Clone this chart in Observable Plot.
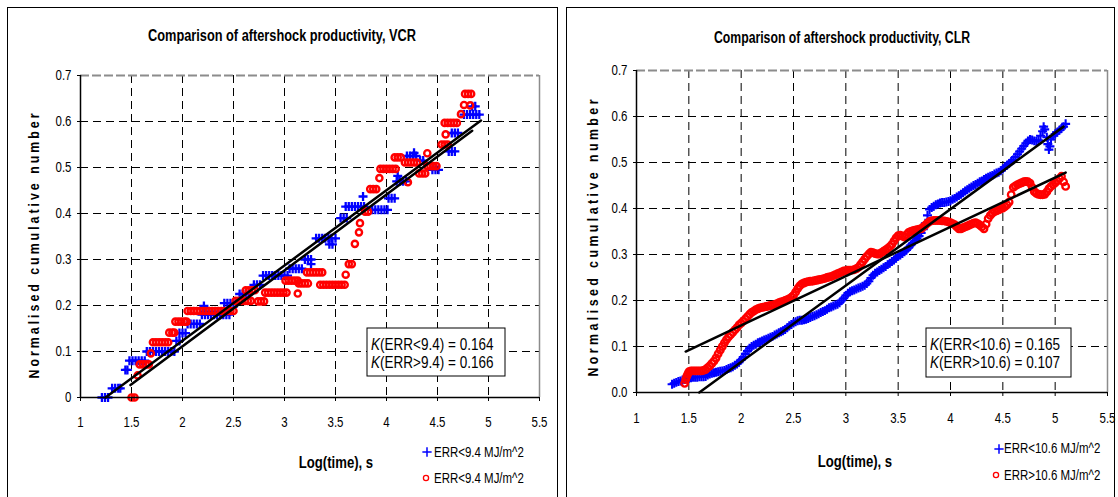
<!DOCTYPE html>
<html><head><meta charset="utf-8">
<script src="https://cdn.jsdelivr.net/npm/d3@7"></script>
<script src="https://cdn.jsdelivr.net/npm/@observablehq/plot@0.6"></script>
<style>
body{margin:0;background:#fff;}
#wrap{position:relative;width:1118px;height:497px;overflow:hidden;background:#fff;}
.panel{position:absolute;border:1px solid #000;box-sizing:border-box;}
.chart{position:absolute;top:0;}
</style></head><body>
<div id="wrap">
  <div class="panel" style="left:7px;top:7px;width:551px;height:500px"></div>
  <div class="panel" style="left:566px;top:7px;width:549px;height:500px"></div>
</div>
<script>
const FONT = "'Liberation Sans Narrow','Arial Narrow','Liberation Sans',Arial,sans-serif";

// ---- axes / labels ----
const xTicks = [1, 1.5, 2, 2.5, 3, 3.5, 4, 4.5, 5, 5.5];
const yTicks = [0, 0.1, 0.2, 0.3, 0.4, 0.5, 0.6, 0.7];
const xGrid = [1.5, 2, 2.5, 3, 3.5, 4, 4.5, 5];
const yGrid = [0.1, 0.2, 0.3, 0.4, 0.5, 0.6];
const vcrTitle = "Comparison of aftershock productivity, VCR";
const clrTitle = "Comparison of aftershock productivity, CLR";
const yTitle = "Normalised cumulative number";
const xTitle = "Log(time), s";
const vcrLegend = ["ERR<9.4 MJ/m^2", "ERR<9.4 MJ/m^2"];
const clrLegend = ["ERR<10.6 MJ/m^2", "ERR>10.6 MJ/m^2"];
const vcrK = [["(ERR<9.4) = ", "0.164"], ["(ERR>9.4) = ", "0.166"]];
const clrK = [["(ERR<10.6) = ", "0.165"], ["(ERR>10.6) = ", "0.107"]];

// ---- VCR, ERR<9.4 (blue +): [level, x positions] ----
const vcrLowRuns = [
  [0.000, [1.21, 1.24, 1.27]],
  [0.020, [1.31, 1.34, 1.37, 1.39]],
  [0.060, [1.44, 1.46]],
  [0.080, [1.48, 1.51, 1.54, 1.57, 1.60, 1.63]],
  [0.100, [1.65, 1.68, 1.71, 1.74, 1.77, 1.80, 1.83, 1.86, 1.89, 1.92]],
  [0.123, [1.94, 1.97]],
  [0.140, [1.97, 2.00, 2.03]],
  [0.160, [2.05, 2.08, 2.11, 2.14, 2.17]],
  [0.180, [2.19, 2.22, 2.25, 2.28, 2.31, 2.34, 2.37, 2.40, 2.43, 2.46]],
  [0.199, [2.21]],
  [0.205, [2.41, 2.44, 2.47, 2.50, 2.53]],
  [0.225, [2.56, 2.59, 2.62, 2.65]],
  [0.245, [2.70, 2.73, 2.76]],
  [0.265, [2.79, 2.82, 2.85, 2.88, 2.91, 2.94, 2.97, 3.00, 3.03]],
  [0.280, [3.05, 3.08, 3.11, 3.14, 3.17]],
  [0.290, [3.26]],
  [0.300, [3.20, 3.23, 3.26]],
  [0.333, [3.44, 3.47]],
  [0.346, [3.31, 3.34, 3.37, 3.40, 3.43, 3.46, 3.50]],
  [0.390, [3.55, 3.58, 3.61]],
  [0.415, [3.60, 3.63, 3.66, 3.69, 3.72, 3.75, 3.78]],
  [0.437, [3.77]],
  [0.408, [3.86, 3.89, 3.92, 3.95, 3.98, 4.01]],
  [0.433, [4.02, 4.05, 4.08]],
  [0.470, [4.10, 4.13, 4.16, 4.19]],
  [0.482, [4.11]],
  [0.525, [4.20, 4.23, 4.26, 4.29]],
  [0.532, [4.27]],
  [0.515, [4.33, 4.36]],
  [0.495, [4.45, 4.48, 4.51]],
  [0.535, [4.61, 4.64, 4.67]],
  [0.575, [4.64, 4.67, 4.70]],
  [0.615, [4.76, 4.79, 4.82, 4.85, 4.88, 4.91]],
  [0.633, [4.84, 4.87]]
];

// ---- VCR, ERR>9.4 (red o): [level, x positions] ----
const vcrHighRuns = [
  [0.000, [1.50, 1.53]],
  [0.048, [1.56]],
  [0.072, [1.58, 1.61, 1.64, 1.67]],
  [0.096, [1.69]],
  [0.120, [1.71, 1.74, 1.77, 1.80, 1.83, 1.86]],
  [0.141, [1.87, 1.90, 1.92]],
  [0.165, [1.93, 1.96, 1.99, 2.02, 2.04]],
  [0.188, [2.05, 2.08, 2.11, 2.14, 2.17, 2.20, 2.23, 2.26, 2.29, 2.32, 2.35, 2.38, 2.41, 2.44, 2.47, 2.50]],
  [0.210, [2.52, 2.55, 2.58, 2.61, 2.64, 2.67]],
  [0.233, [2.62, 2.65, 2.68, 2.71]],
  [0.209, [2.74, 2.77, 2.80]],
  [0.228, [2.81, 2.84, 2.87, 2.90, 2.93, 2.96, 2.99, 3.02]],
  [0.254, [3.01, 3.04, 3.07, 3.10, 3.13]],
  [0.226, [3.13]],
  [0.248, [3.14, 3.17, 3.20, 3.23]],
  [0.272, [3.22, 3.25, 3.28, 3.31, 3.34, 3.37]],
  [0.245, [3.35, 3.38, 3.41, 3.44, 3.47, 3.50, 3.53, 3.56, 3.59]],
  [0.267, [3.60]],
  [0.290, [3.63, 3.66]],
  [0.334, [3.69]],
  [0.359, [3.73]],
  [0.379, [3.74]],
  [0.404, [3.79, 3.82]],
  [0.453, [3.84, 3.87, 3.90]],
  [0.477, [3.93]],
  [0.497, [3.94, 3.97, 4.00, 4.03, 4.06, 4.09]],
  [0.522, [4.08, 4.11, 4.14]],
  [0.511, [4.18, 4.21, 4.24, 4.27, 4.30]],
  [0.468, [4.21]],
  [0.487, [4.32, 4.35, 4.38]],
  [0.531, [4.40]],
  [0.503, [4.40, 4.43, 4.46, 4.49]],
  [0.550, [4.54, 4.57, 4.60]],
  [0.572, [4.58]],
  [0.597, [4.57, 4.60, 4.63, 4.66, 4.69]],
  [0.616, [4.73]],
  [0.636, [4.76]],
  [0.660, [4.77, 4.80, 4.83]],
  [0.635, [4.82]]
];

// ---- CLR, ERR<10.6 (blue +): [x, y] ----
const clrLow = [
  [1.34,.018],[1.36,.020],[1.38,.022],[1.40,.024],[1.42,.025],[1.44,.027],[1.46,.028],[1.48,.030],
  [1.50,.031],[1.52,.032],[1.54,.033],[1.56,.033],[1.58,.033],[1.60,.034],[1.62,.034],[1.64,.034],
  [1.66,.035],[1.68,.038],[1.70,.040],[1.72,.042],[1.74,.043],[1.76,.044],[1.78,.045],[1.80,.046],
  [1.82,.047],[1.84,.048],[1.86,.050],[1.88,.052],[1.90,.054],[1.92,.056],[1.94,.059],[1.96,.062],
  [1.98,.066],[2.00,.071],[2.02,.077],[2.04,.084],[2.06,.090],[2.08,.096],[2.10,.100],[2.12,.103],
  [2.14,.105],[2.16,.108],[2.18,.110],[2.20,.112],[2.22,.114],[2.24,.116],[2.26,.118],[2.28,.120],
  [2.30,.122],[2.32,.125],[2.34,.127],[2.36,.130],[2.38,.132],[2.40,.134],[2.42,.137],[2.44,.141],
  [2.46,.145],[2.48,.148],[2.50,.151],[2.52,.154],[2.54,.156],[2.56,.157],[2.58,.157],[2.60,.158],
  [2.62,.159],[2.64,.161],[2.66,.163],[2.68,.165],[2.70,.167],[2.72,.169],[2.74,.171],[2.76,.174],
  [2.78,.176],[2.80,.178],[2.82,.181],[2.84,.184],[2.86,.186],[2.88,.188],[2.90,.190],[2.92,.192],
  [2.94,.195],[2.96,.200],[2.98,.205],[3.00,.211],[3.02,.216],[3.04,.219],[3.06,.221],[3.08,.223],
  [3.10,.225],[3.12,.227],[3.14,.229],[3.16,.231],[3.18,.233],[3.20,.237],[3.22,.242],[3.24,.249],
  [3.26,.255],[3.28,.259],[3.30,.262],[3.32,.265],[3.34,.268],[3.36,.271],[3.38,.274],[3.40,.278],
  [3.42,.281],[3.44,.285],[3.46,.288],[3.48,.292],[3.50,.296],[3.52,.299],[3.54,.302],[3.56,.306],
  [3.58,.310],[3.60,.315],[3.62,.320],[3.64,.325],[3.66,.330],[3.68,.335],[3.70,.340],[3.72,.347],
  [3.74,.355],[3.76,.368],[3.78,.385],[3.80,.398],[3.82,.402],[3.84,.405],[3.86,.408],[3.88,.410],
  [3.90,.412],[3.92,.413],[3.94,.413],[3.96,.414],[3.98,.415],[4.00,.417],[4.02,.420],[4.04,.422],
  [4.06,.425],[4.08,.428],[4.10,.431],[4.12,.434],[4.14,.438],[4.16,.441],[4.18,.444],[4.20,.447],
  [4.22,.450],[4.24,.452],[4.26,.455],[4.28,.458],[4.30,.460],[4.32,.463],[4.34,.466],[4.36,.468],
  [4.38,.470],[4.40,.472],[4.42,.475],[4.44,.477],[4.46,.479],[4.48,.482],[4.50,.486],[4.52,.490],
  [4.54,.494],[4.56,.498],[4.58,.502],[4.60,.506],[4.62,.512],[4.64,.518],[4.66,.524],[4.68,.530],
  [4.70,.536],[4.72,.542],[4.74,.547],[4.76,.550],[4.78,.549],[4.80,.547],[4.82,.546],[4.84,.548],
  [4.86,.558],[4.88,.568],[4.89,.578],[4.90,.572],[4.92,.555],[4.93,.540],[4.94,.528],[4.95,.535],
  [4.96,.550],[4.98,.558],[5.00,.562],[5.02,.566],[5.04,.570],[5.06,.574],[5.08,.578],[5.10,.584]
];

// ---- CLR, ERR>10.6 (red o): [x, y] ----
const clrHigh = [
  [1.46,.020],[1.47,.028],[1.48,.035],[1.49,.040],[1.50,.045],[1.52,.047],[1.54,.047],[1.56,.047],
  [1.58,.047],[1.60,.047],[1.62,.047],[1.64,.048],[1.66,.050],[1.68,.054],[1.70,.058],[1.72,.063],
  [1.74,.068],[1.76,.075],[1.78,.084],[1.80,.092],[1.82,.100],[1.84,.108],[1.86,.115],[1.88,.121],
  [1.90,.126],[1.92,.131],[1.94,.136],[1.96,.141],[1.98,.147],[2.00,.151],[2.02,.155],[2.04,.160],
  [2.06,.165],[2.08,.170],[2.10,.174],[2.12,.177],[2.14,.180],[2.16,.182],[2.18,.184],[2.20,.185],
  [2.22,.186],[2.24,.187],[2.26,.188],[2.28,.189],[2.30,.190],[2.32,.191],[2.34,.193],[2.36,.195],
  [2.38,.197],[2.40,.198],[2.42,.200],[2.44,.202],[2.46,.204],[2.48,.207],[2.50,.211],[2.52,.218],
  [2.54,.226],[2.56,.232],[2.58,.236],[2.60,.238],[2.62,.240],[2.64,.241],[2.66,.242],[2.68,.242],
  [2.70,.243],[2.72,.244],[2.74,.245],[2.76,.246],[2.78,.247],[2.80,.248],[2.82,.250],[2.84,.251],
  [2.86,.252],[2.88,.254],[2.90,.256],[2.92,.258],[2.94,.260],[2.96,.262],[2.98,.264],[3.00,.265],
  [3.02,.266],[3.04,.266],[3.06,.266],[3.08,.267],[3.10,.269],[3.12,.272],[3.14,.278],[3.16,.284],
  [3.18,.290],[3.20,.296],[3.22,.301],[3.24,.305],[3.26,.304],[3.28,.302],[3.30,.301],[3.32,.301],
  [3.34,.304],[3.36,.307],[3.38,.310],[3.40,.313],[3.42,.317],[3.44,.322],[3.46,.329],[3.48,.336],
  [3.50,.341],[3.52,.342],[3.54,.340],[3.56,.338],[3.58,.343],[3.60,.348],[3.62,.350],[3.64,.352],
  [3.66,.353],[3.68,.354],[3.70,.355],[3.72,.356],[3.74,.360],[3.76,.364],[3.78,.368],[3.80,.372],
  [3.82,.373],[3.84,.374],[3.86,.374],[3.88,.374],[3.90,.374],[3.92,.373],[3.94,.373],[3.96,.372],
  [3.98,.371],[4.00,.369],[4.02,.367],[4.04,.365],[4.06,.360],[4.08,.356],[4.10,.356],[4.12,.358],
  [4.14,.360],[4.16,.362],[4.18,.364],[4.20,.366],[4.22,.368],[4.24,.369],[4.26,.367],[4.28,.364],
  [4.30,.360],[4.32,.356],[4.34,.366],[4.36,.378],[4.38,.385],[4.40,.390],[4.42,.393],[4.44,.395],
  [4.46,.397],[4.48,.399],[4.50,.401],[4.52,.404],[4.54,.408],[4.56,.414],[4.58,.430],[4.60,.446],
  [4.62,.449],[4.64,.452],[4.66,.454],[4.68,.456],[4.70,.458],[4.72,.459],[4.74,.458],[4.76,.455],
  [4.78,.446],[4.80,.437],[4.82,.433],[4.84,.431],[4.86,.430],[4.88,.430],[4.90,.431],[4.92,.436],
  [4.94,.443],[4.96,.448],[4.98,.452],[5.00,.456],[5.02,.460],[5.04,.465],[5.06,.470],[5.08,.458],
  [5.10,.448]
];

// ---- fitted lines (end points) ----
const vcrFitLow = [[1.245, 0.000], [4.926, 0.602]];
const vcrFitHigh = [[1.49, 0.027], [4.84, 0.580]];
const clrFitLow = [[1.60, 0.000], [5.08, 0.578]];
const clrFitHigh = [[1.47, 0.089], [5.10, 0.478]];

const runsToPoints = runs => runs.flatMap(([y, xs]) => xs.map(x => [x, y]));

function buildPanel(cfg) {
  return Plot.plot({
    width: 559, height: 497,
    marginLeft: cfg.mL, marginRight: cfg.mR, marginTop: cfg.mT, marginBottom: cfg.mB,
    style: {fontFamily: FONT, fontSize: "14px", background: "transparent", color: "#000", overflow: "visible"},
    x: {domain: [1, 5.5]},
    y: {domain: [0, 0.7]},
    marks: [
      Plot.ruleX(xGrid, {stroke: "#000", strokeWidth: 1, strokeDasharray: "8,5"}),
      Plot.ruleY(yGrid, {stroke: "#000", strokeWidth: 1, strokeDasharray: "8,5"}),
      Plot.ruleY([0.7], {stroke: "#8c8c8c", strokeWidth: 2, strokeDasharray: "9,3"}),
      Plot.ruleX([5.5], {stroke: "#8c8c8c", strokeWidth: 1.5}),
      Plot.dot(cfg.low, {x: d => d[0], y: d => d[1], symbol: "plus", r: cfg.plusR, stroke: "#0000ff", strokeWidth: cfg.plusW}),
      Plot.dot(cfg.high, {x: d => d[0], y: d => d[1], r: cfg.circR, stroke: "#ff0000", strokeWidth: cfg.circW, fill: "none"}),
      Plot.line(cfg.fitLow, {x: d => d[0], y: d => d[1], stroke: "#000", strokeWidth: 2.5}),
      Plot.line(cfg.fitHigh, {x: d => d[0], y: d => d[1], stroke: "#000", strokeWidth: 2.5}),
      Plot.ruleX([1], {stroke: "#000", strokeWidth: 1.5}),
      Plot.ruleY([0], {stroke: "#000", strokeWidth: 1.5}),
      Plot.axisX({ticks: xTicks, tickFormat: d => String(d), tickSize: 4, tickPadding: cfg.xPad, label: null, fontSize: 14}),
      Plot.axisY({ticks: yTicks, tickFormat: cfg.yFmt, tickSize: 3, tickPadding: 6, label: null, fontSize: 14})
    ]
  });
}

// squeeze glyphs horizontally so the sans font reads like a narrow one
function condense(svg, f) {
  svg.querySelectorAll("text").forEach(t => {
    if (t.hasAttribute("textLength") || t.classList.contains("nc")) return;
    const L = t.getComputedTextLength();
    if (L > 0) {
      t.setAttribute("textLength", (L * f).toFixed(2));
      t.setAttribute("lengthAdjust", "spacingAndGlyphs");
    }
  });
}

// text drawn at (x, y) and squeezed with a transform
function narrowText(g, x, y, size, anchor) {
  return g.append("text").attr("class", "nc").attr("x", 0).attr("y", 0)
    .attr("transform", `translate(${x},${y}) scale(0.82,1)`)
    .attr("text-anchor", anchor).attr("font-size", size);
}

function decorate(svg, d) {
  const s = d3.select(svg);
  const g = s.append("g").attr("font-family", FONT).attr("fill", "#000").attr("text-anchor", "start");
  g.append("text").attr("x", d.titleX).attr("y", d.titleY).attr("text-anchor", "middle")
    .attr("font-weight", "bold").attr("font-size", 16)
    .attr("textLength", d.titleLen).attr("lengthAdjust", "spacingAndGlyphs").text(d.title);
  g.append("text").attr("transform", `translate(${d.yLabX},${d.yLabY}) rotate(-90) scale(0.8,1)`)
    .attr("text-anchor", "middle").attr("font-weight", "bold").attr("font-size", 15.5)
    .attr("textLength", d.yLabLen / 0.8).attr("lengthAdjust", "spacing").text(yTitle);
  narrowText(g, d.xTitleX, d.xTitleY, 16, "middle").attr("font-weight", "bold").text(xTitle);
  // legend
  g.append("path").attr("transform", `translate(${d.leg[0][0]},${d.leg[0][1]})`)
    .attr("d", d3.symbol(d3.symbolPlus, d.legPlusSize)()).attr("fill", "none").attr("stroke", "#0000ff").attr("stroke-width", 1.5);
  narrowText(g, d.legTextX, d.leg[0][2], 14, "start").text(d.legend[0]);
  g.append("circle").attr("cx", d.leg[1][0]).attr("cy", d.leg[1][1]).attr("r", 2.6)
    .attr("fill", "none").attr("stroke", "#ff0000").attr("stroke-width", 1.3);
  narrowText(g, d.legTextX, d.leg[1][2], 14, "start").text(d.legend[1]);
  // K box
  g.append("rect").attr("x", d.box[0]).attr("y", d.box[1]).attr("width", d.box[2]).attr("height", d.box[3])
    .attr("fill", "#fff").attr("stroke", "#000").attr("stroke-width", 1);
  d.k.forEach((row, i) => {
    const t = narrowText(g, d.box[0] + 4, d.kY[i], 16.5, "start");
    t.append("tspan").attr("font-style", "italic").text("K");
    t.append("tspan").text(row[0] + row[1]);
  });
}

const wrap = document.getElementById("wrap");

const leftSvg = buildPanel({
  low: runsToPoints(vcrLowRuns), high: runsToPoints(vcrHighRuns),
  fitLow: vcrFitLow, fitHigh: vcrFitHigh,
  mL: 80, mR: 20, mT: 75, mB: 100, xPad: 16,
  yFmt: d => d === 0 ? "0" : d.toFixed(1),
  plusR: 3.0, plusW: 2.3, circR: 3.1, circW: 2.4
});
leftSvg.classList.add("chart");
leftSvg.style.left = "0px";
wrap.appendChild(leftSvg);
decorate(leftSvg, {
  title: vcrTitle, titleX: 282, titleY: 40.5, titleLen: 268,
  yLabX: 39, yLabY: 246, yLabLen: 265,
  xTitleX: 336, xTitleY: 467.5,
  legend: vcrLegend, leg: [[427, 452, 457], [426, 478, 483]], legTextX: 434, legPlusSize: 30,
  box: [367, 328, 138, 48], kY: [349.5, 367.5], k: vcrK
});
condense(leftSvg, 0.82);

const rightSvg = buildPanel({
  low: clrLow, high: clrHigh,
  fitLow: clrFitLow, fitHigh: clrFitHigh,
  mL: 77, mR: 11, mT: 70, mB: 105, xPad: 17,
  yFmt: d => d.toFixed(1),
  plusR: 3.0, plusW: 2.1, circR: 3.3, circW: 2.3
});
rightSvg.classList.add("chart");
rightSvg.style.left = "559px";
wrap.appendChild(rightSvg);
decorate(rightSvg, {
  title: clrTitle, titleX: 283, titleY: 43, titleLen: 256,
  yLabX: 39, yLabY: 238, yLabLen: 277,
  xTitleX: 296, xTitleY: 467,
  legend: clrLegend, leg: [[440, 449, 453], [437, 475, 480]], legTextX: 445, legPlusSize: 30,
  box: [367, 328, 145, 49], kY: [349.5, 368], k: clrK
});
condense(rightSvg, 0.82);
</script>
</body></html>
